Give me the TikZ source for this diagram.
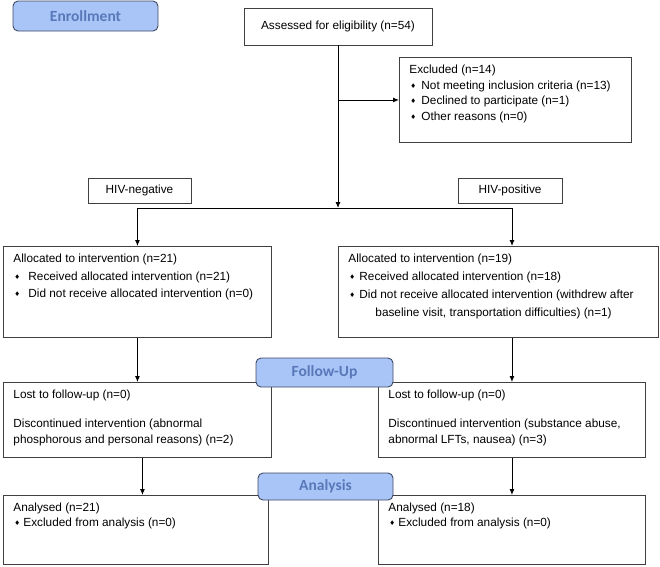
\documentclass[tikz,border=0pt]{standalone}
\usepackage{fontspec}
\setmainfont{Liberation Sans}
\newfontfamily\headfont{Carlito}
\newfontfamily\symfont{DejaVu Sans}
\usetikzlibrary{arrows.meta}
\definecolor{headfill}{HTML}{A9C5F8}
\definecolor{headtext}{HTML}{5878B8}
\definecolor{headline}{HTML}{3E4A63}
\definecolor{boxline}{HTML}{404040}
\def\dia#1{\makebox[#1][l]{\hspace{1pt}\raisebox{0.8pt}{\symfont\fontsize{6.5}{6.5}\selectfont ♦}}}
\def\boxbody#1#2#3#4{\parbox[t][#1][t]{#2}{\fontsize{11.8}{#3}\selectfont\raggedright #4}}
\tikzset{
	flowbox/.style={draw=boxline, line width=0.9pt, anchor=north west, inner xsep=10pt, inner ysep=7.5pt},
	smallbox/.style={draw=boxline, line width=0.9pt, inner sep=0pt, font=\fontsize{11.8}{16}\selectfont},
	stagebox/.style={draw=headline, line width=0.9pt, fill=headfill, rounded corners=5pt, inner sep=0pt, text=headtext, font=\headfont\bfseries\fontsize{15.5}{18}\selectfont},
	arr/.style={line width=0.9pt, -{Latex[length=6pt,width=5pt]}},
	conn/.style={line width=0.9pt}
}

\begin{document}
\begin{tikzpicture}[x=1pt, y=-1pt]
			%%%%% START %%%%%
			\useasboundingbox (0, 0) rectangle (660, 566);
			
			\node[smallbox, minimum width=188pt, minimum height=37pt] (assess) at (338, 26.5) {Assessed for eligibility (n=54)};
			\node[flowbox] (excl) at (399, 57) {\boxbody{70pt}{212pt}{15.5pt}{Excluded (n=14)\\
				\dia{12pt}Not meeting inclusion criteria (n=13)\\
				\dia{12pt}Declined to participate (n=1)\\
				\dia{12pt}Other reasons (n=0)}};
			
			\node[smallbox, minimum width=103pt, minimum height=25pt] (hivneg) at (139.5, 190.5) {HIV-negative};
			\node[smallbox, minimum width=104pt, minimum height=25pt] (hivpos) at (510, 190.5) {HIV-positive};
			
			\node[flowbox] (allocL) at (3, 246) {\boxbody{76pt}{248pt}{17.5pt}{Allocated to intervention (n=21)\\
				\dia{15pt}Received allocated intervention (n=21)\\
				\dia{15pt}Did not receive allocated intervention (n=0)}};
			\node[flowbox] (allocR) at (338, 246) {\boxbody{76pt}{300pt}{18pt}{Allocated to intervention (n=19)\\
				\dia{11pt}Received allocated intervention (n=18)\\
				\dia{11pt}Did not receive allocated intervention (withdrew after\\
				\hspace*{27pt}baseline visit, transportation difficulties) (n=1)}};
			
			\node[flowbox] (fupL) at (3, 382) {\boxbody{60pt}{248pt}{16pt}{Lost to follow-up (n=0)\\[13pt]
				Discontinued intervention (abnormal\\
				phosphorous and personal reasons) (n=2)}};
			\node[flowbox] (fupR) at (378, 382) {\boxbody{60pt}{247pt}{16pt}{Lost to follow-up (n=0)\\[13pt]
				Discontinued intervention (substance abuse,\\
				abnormal LFTs, nausea) (n=3)}};
			
			\node[flowbox] (anaL) at (3, 495) {\boxbody{54pt}{245pt}{15pt}{Analysed (n=21)\\
				\dia{10pt}Excluded from analysis (n=0)}};
			\node[flowbox] (anaR) at (378, 495) {\boxbody{54pt}{247pt}{15pt}{Analysed (n=18)\\
				\dia{10pt}Excluded from analysis (n=0)}};
			
			\coordinate (split) at (338, 208);
			\coordinate (rightlane) at (512, 208);
			
			\draw[arr] (assess.south) -- (split);
			\draw[arr] (assess.south |- excl.west) -- (excl.west);
			\draw[conn] (allocL.north |- split) -- (rightlane);
			\draw[arr] (allocL.north |- split) -- (allocL.north);
			\draw[arr] (rightlane) -- (rightlane |- allocR.north);
			
			\draw[arr] (allocL.south) -- (fupL.north);
			\draw[arr] (fupR.north |- allocR.south) -- (fupR.north);
			\draw[arr] ([xshift=5pt]fupL.south) -- ([xshift=5pt]fupL.south |- anaL.north);
			\draw[arr] (fupR.south) -- (anaR.north);
			
			\node[stagebox, minimum width=145pt, minimum height=30pt] (enroll) at (85.5, 16) {Enrollment};
			\node[stagebox, minimum width=137pt, minimum height=29pt] (followup) at (324.5, 372.5) {Follow-Up};
			\node[stagebox, minimum width=135pt, minimum height=27pt] (analysis) at (325.5, 486.5) {Analysis};
			
			%%%%% END %%%%%
		\end{tikzpicture}
\end{document}
